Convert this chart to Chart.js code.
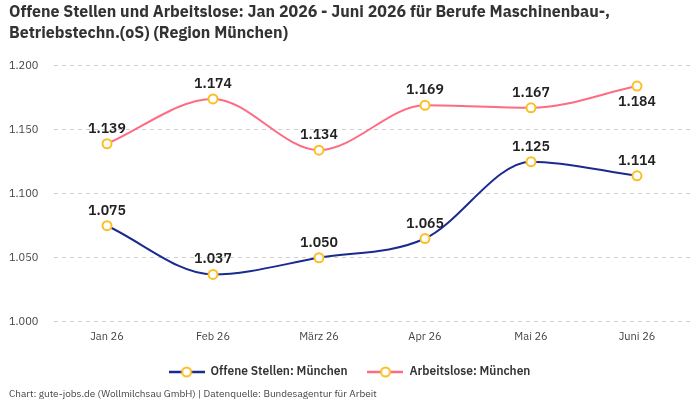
<!DOCTYPE html>
<html>
<head>
<meta charset="utf-8">
<script src="https://cdn.jsdelivr.net/npm/chart.js@4/dist/chart.umd.min.js"></script>
<style>
  html, body { margin: 0; padding: 0; background: #fff; }
  #wrap { width: 700px; height: 400px; }
</style>
</head>
<body>
<div id="wrap"><canvas id="chart" width="700" height="400"></canvas></div>
<script>
/* ---------- DATA ---------- */
const months = ['Jan 26', 'Feb 26', 'März 26', 'Apr 26', 'Mai 26', 'Juni 26'];
const offeneStellen = [1075, 1037, 1050, 1065, 1125, 1114];
const arbeitslose = [1139, 1174, 1134, 1169, 1167, 1184];
const seriesNames = ['Offene Stellen: München', 'Arbeitslose: München'];
const titleLines = [
  'Offene Stellen und Arbeitslose: Jan 2026 - Juni 2026 für Berufe Maschinenbau-,',
  'Betriebstechn.(oS) (Region München)'
];
const sourceText = 'Chart: gute-jobs.de (Wollmilchsau GmbH) | Datenquelle: Bundesagentur für Arbeit';

const FONT = "'IBM Plex Sans', 'Noto Sans', sans-serif";
const fmt = v => v.toLocaleString('de-DE');

/* legend marker: short line with a hollow circle */
function legendIcon(color) {
  const c = document.createElement('canvas');
  c.width = 36; c.height = 12;
  const g = c.getContext('2d');
  g.strokeStyle = color; g.lineWidth = 2.5;
  g.beginPath(); g.moveTo(0, 6); g.lineTo(36, 6); g.stroke();
  g.fillStyle = '#fff'; g.strokeStyle = '#fbbf24'; g.lineWidth = 2;
  g.beginPath(); g.arc(18, 6, 4.5, 0, Math.PI * 2); g.fill(); g.stroke();
  return c;
}

/* value labels above points (below when too close to the top) */
const valueLabels = {
  id: 'valueLabels',
  afterDatasetsDraw(chart) {
    const ctx = chart.ctx;
    const top = chart.chartArea.top;
    ctx.save();
    ctx.font = `600 14px ${FONT}`;
    ctx.fillStyle = '#222';
    ctx.textAlign = 'center';
    chart.data.datasets.forEach((ds, i) => {
      chart.getDatasetMeta(i).data.forEach((pt, j) => {
        const below = pt.y - top < 25;
        ctx.textBaseline = below ? 'top' : 'bottom';
        ctx.fillText(fmt(ds.data[j]), pt.x, below ? pt.y + 9 : pt.y - 8);
      });
    });
    ctx.restore();
  }
};

const colors = ['#1b2a8f', '#ff6b81'];

new Chart(document.getElementById('chart'), {
  type: 'line',
  data: {
    labels: months,
    datasets: [offeneStellen, arbeitslose].map((d, i) => ({
      label: seriesNames[i],
      data: d,
      borderColor: colors[i],
      borderWidth: 2,
      cubicInterpolationMode: 'monotone',
      pointRadius: 4.5,
      pointBorderWidth: 2,
      pointBackgroundColor: '#fff',
      pointBorderColor: '#fbbf24'
    }))
  },
  options: {
    responsive: false,
    animation: false,
    layout: { padding: { left: 9, right: 10, top: 0, bottom: 0 } },
    scales: {
      x: {
        offset: true,
        grid: { display: false },
        border: { display: false },
        ticks: { color: '#444', font: { family: FONT, size: 11 }, padding: 0 },
        afterFit: scale => { scale.height += 3; }
      },
      y: {
        min: 1000, max: 1200,
        grid: { color: '#cfcfcf', tickLength: 0 },
        border: { display: false, dash: [4, 4] },
        ticks: { stepSize: 50, color: '#444', font: { family: FONT, size: 11 }, crossAlign: 'far', callback: v => fmt(v) },
        afterFit: scale => { scale.width = 45; }
      }
    },
    plugins: {
      title: {
        display: true, text: titleLines, align: 'start', color: '#333',
        font: { family: FONT, size: 16, weight: 'bold', lineHeight: 1.3 },
        padding: { top: 2, bottom: 22 }
      },
      subtitle: {
        display: true, text: sourceText, position: 'bottom', align: 'start', color: '#444',
        font: { family: FONT, size: 10 }, padding: { top: 0, bottom: 0 }
      },
      legend: {
        position: 'bottom',
        labels: {
          usePointStyle: true,
          boxWidth: 36,
          pointStyleWidth: 36,
          color: '#333',
          font: { family: FONT, size: 12, weight: 600 },
          padding: 20,
          generateLabels: chart => chart.data.datasets.map((ds, i) => ({
            text: ds.label, pointStyle: legendIcon(colors[i]), datasetIndex: i,
            fontColor: '#333', lineWidth: 0, strokeStyle: 'transparent', fillStyle: 'transparent'
          }))
        }
      },
      tooltip: { enabled: false }
    }
  },
  plugins: [valueLabels]
});
</script>
</body>
</html>
